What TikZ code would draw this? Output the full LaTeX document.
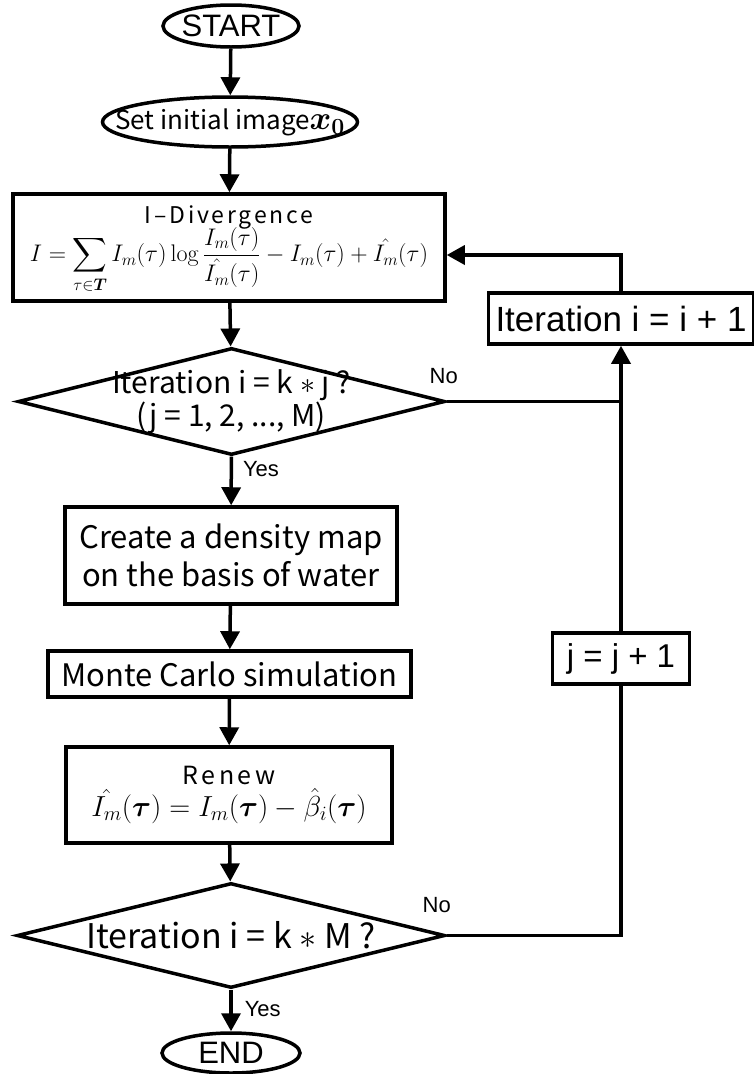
\documentclass[tikz,border=0pt]{standalone}
\usepackage{fix-cm}
\usepackage{amsmath}
\usepackage{amssymb}
\usepackage[no-math]{fontspec}
\setmainfont{Liberation Sans}
\newfontfamily\gothic{Noto Sans CJK JP}
\usetikzlibrary{arrows.meta,shapes.geometric}

\tikzset{
    box/.style={draw, rectangle, line width=3.5pt, inner sep=0pt, align=center},
    oval/.style={draw, ellipse, line width=3.5pt, inner sep=0pt},
    decide/.style={draw, diamond, line width=3.5pt, inner sep=0pt},
    flow/.style={line width=3.5pt, -{Triangle[length=18pt,width=19pt]}},
    link/.style={line width=3.5pt},
    lbl/.style={font=\fontsize{22}{22}\selectfont, inner sep=0pt}
}

\begin{document}
\begin{tikzpicture}[x=1pt, y=-1pt]
                \useasboundingbox (0,0) rectangle (754,1074);
                \node[oval, minimum width=136, minimum height=42, label={[font=\fontsize{31}{31}\selectfont]center:START}] (start) at (231,26) {};
                \node[oval, minimum width=255, minimum height=50, label={[font=\gothic\fontsize{26}{26}\selectfont, inner sep=0pt]center:Set initial image{\fontsize{33}{33}\selectfont$\boldsymbol{x_0}$}}] (init) at (230,122) {};
                \node[box, minimum width=432, minimum height=107, label={[align=center, yshift=-2pt, inner sep=0pt]center:{\gothic\addfontfeatures{LetterSpace=12}\fontsize{23}{23}\selectfont I–Divergence}\\[-3pt]
                    {\fontsize{24}{24}\selectfont$\displaystyle I=\sum_{\tau\in\boldsymbol{T}}I_m(\tau)\log\frac{I_m(\tau)}{\hat{I_m}(\tau)}-I_m(\tau)+\hat{I_m}(\tau)$}}] (div) at (229,247.5) {};
                \node[decide, minimum width=427, minimum height=107, label={[align=center, font=\gothic\fontsize{30}{25}\selectfont]center:Iteration i = k $\ast$ j ?\\(j = 1, 2, ..., M)}] (test1) at (231.5,401.5) {};
                \node[box, minimum width=332, minimum height=97, font=\gothic\fontsize{31}{38}\selectfont] (dens) at (231,555.5) {Create a density map\\on the basis of water};
                \node[box, minimum width=363, minimum height=46, font=\gothic\fontsize{31}{31}\selectfont] (mc) at (229.5,674) {Monte Carlo simulation};
                \node[box, minimum width=326, minimum height=96] (renew) at (229,795) {{\gothic\addfontfeatures{LetterSpace=14}\fontsize{25}{25}\selectfont Renew}\\[3pt]
                    {\fontsize{29}{29}\selectfont$\hat{I_m}(\boldsymbol{\tau})=I_m(\boldsymbol{\tau})-\hat{\beta}_i(\boldsymbol{\tau})$}};
                \node[decide, minimum width=428, minimum height=105, label={[font=\gothic\fontsize{34}{34}\selectfont]center:Iteration i = k $\ast$ M ?}] (test2) at (231,935.5) {};
                \node[oval, minimum width=138, minimum height=40, label={[font=\fontsize{31}{31}\selectfont]center:END}] (stop) at (231,1053) {};
                \node[box, minimum width=265, minimum height=51, font=\fontsize{35}{35}\selectfont] (iinc) at (621,318.5) {Iteration i = i + 1};
                \node[box, minimum width=137, minimum height=51, font=\fontsize{33}{33}\selectfont] (jinc) at (621,658.5) {j = j + 1};

                % main column
                \draw[flow] (start) -- (init);
                \draw[flow] (init) -- (div);
                \draw[flow] (div) -- (test1);
                \draw[flow] (test1) -- node[pos=0, lbl, anchor=north west, xshift=10pt, yshift=-3pt] {Yes} (dens);
                \draw[flow] (dens) -- (mc);
                \draw[flow] (mc) -- (renew);
                \draw[flow] (renew) -- (test2);
                \draw[flow] (test2) -- node[pos=0, lbl, anchor=north west, xshift=12pt, yshift=-10pt] {Yes} (stop);

                % loop back on the right
                \draw[link] (test1.east) node[lbl, anchor=south, xshift=-3pt, yshift=16pt] {No} -- (test1.east -| jinc.north);
                \draw[link] (test2.east) node[lbl, anchor=south, xshift=-10pt, yshift=21pt] {No} -| (jinc.south);
                \draw[flow] (jinc) -- (iinc);
                \draw[flow] (iinc.north) |- ([yshift=-7.5pt]div.east);
            \end{tikzpicture}
\end{document}
